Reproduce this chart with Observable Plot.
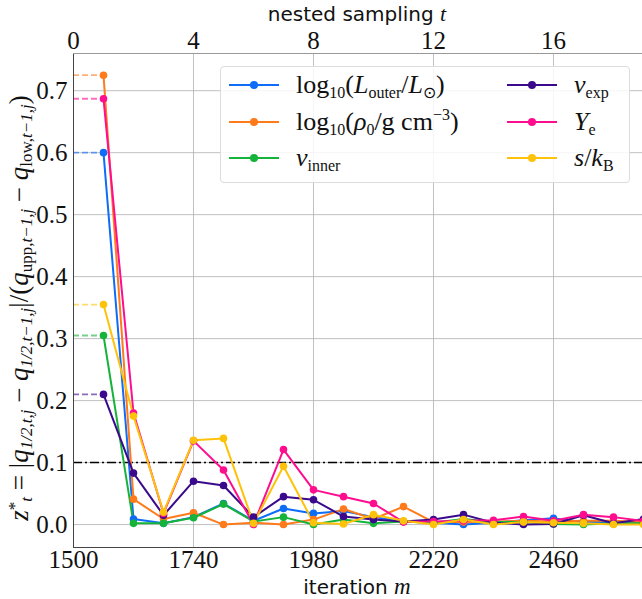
<!DOCTYPE html>
<html><head><meta charset="utf-8">
<script src="https://cdn.jsdelivr.net/npm/d3@7"></script>
<script src="https://cdn.jsdelivr.net/npm/@observablehq/plot@0.6"></script>
<style>
body{margin:0;background:#fff;}
#wrap{position:relative;width:642px;height:599px;}
#legend{position:absolute;left:220px;top:66px;width:410px;height:117px;background:rgba(255,255,255,0.85);border:1px solid #dcdcdc;border-radius:4px;box-sizing:border-box;font-family:"Liberation Serif",serif;font-size:26px;color:#111;}
.item{position:absolute;height:30px;display:flex;align-items:center;white-space:nowrap;}
.sw{position:relative;width:50px;height:2px;margin-right:17px;}
.sw i{position:absolute;left:21px;top:-3px;width:8px;height:8px;border-radius:50%;}
sub{font-size:16px;vertical-align:-5px;line-height:0;font-style:normal;}
sup{font-size:16px;vertical-align:10px;line-height:0;}
</style></head>
<body><div id="wrap"></div>
<script>
const iteration = [1560,1620,1680,1740,1800,1860,1920,1980,2040,2100,2160,2220,2280,2340,2400,2460,2520,2580,2640];
const Louter = [0.600,0.009,0.002,0.012,0.034,0.006,0.026,0.018,0.022,0.012,0.005,0.003,0.000,0.003,0.007,0.010,0.004,0.004,0.003];
const rho0   = [0.725,0.041,0.009,0.019,0.000,0.003,0.000,0.008,0.025,0.009,0.029,0.004,0.004,0.005,0.006,0.005,0.006,0.006,0.004];
const vinner = [0.305,0.002,0.002,0.011,0.033,0.005,0.012,0.000,0.008,0.002,0.005,0.003,0.009,0.004,0.004,0.001,0.000,0.002,0.002];
const vexp   = [0.210,0.083,0.015,0.070,0.063,0.012,0.045,0.040,0.013,0.008,0.005,0.008,0.016,0.003,0.000,0.001,0.015,0.002,0.009];
const Ye     = [0.687,0.180,0.018,0.135,0.088,0.000,0.121,0.056,0.045,0.034,0.004,0.005,0.006,0.007,0.013,0.006,0.016,0.012,0.006];
const sKB    = [0.355,0.175,0.020,0.136,0.139,0.002,0.094,0.003,0.001,0.016,0.006,0.000,0.008,0.000,0.004,0.003,0.002,0.000,0.000];
const startIteration = 1500;
const xTicks = [1500,1740,1980,2220,2460];
const tTickLabels = [0,4,8,12,16];
const yTicks = [0.0,0.1,0.2,0.3,0.4,0.5,0.6,0.7];
const threshold = 0.1;

const seriesNames = ["Louter","rho0","vinner","vexp","Ye","sKB"];
const seriesValues = [Louter,rho0,vinner,vexp,Ye,sKB];
const colors = ["#0f6cf7","#ff7a1a","#16b33a","#3b0a8c","#ff0d8f","#ffc20a"];

const rows = [];
seriesNames.forEach((s,k)=>iteration.forEach((it,i)=>rows.push({series:s,iteration:it,value:seriesValues[k][i]})));
const firsts = seriesNames.map((s,k)=>({series:s,value:seriesValues[k][0],x1:startIteration,x2:iteration[0]}));
const colorScale = {domain:seriesNames,range:colors};

const serif = "Liberation Serif";
const plot = Plot.plot({
  width:642,height:599,
  marginLeft:73,marginRight:0,marginTop:53,marginBottom:52,
  style:{fontFamily:serif,fontSize:"25px",color:"#111",background:"#fff"},
  x:{domain:[1500,2638]},
  y:{domain:[-0.037,0.76]},
  color:colorScale,
  marks:[
    Plot.gridX(xTicks,{stroke:"#b0b0b0",strokeOpacity:0.8,strokeWidth:1}),
    Plot.gridY(yTicks,{stroke:"#b0b0b0",strokeOpacity:0.8,strokeWidth:1}),
    Plot.axisX(xTicks,{anchor:"bottom",tickSize:0,tickPadding:3,label:null,fontSize:25,fontFamily:serif,tickFormat:d=>String(d)}),
    Plot.axisX(xTicks,{anchor:"top",tickSize:0,tickPadding:5,label:null,fontSize:25,fontFamily:serif,tickFormat:(d)=>String(tTickLabels[xTicks.indexOf(d)])}),
    Plot.axisY(yTicks,{tickSize:0,tickPadding:6,label:null,fontSize:25,fontFamily:serif,tickFormat:d=>d.toFixed(1)}),
    Plot.ruleY([threshold],{stroke:"#000",strokeWidth:1.5,strokeDasharray:"9,3,2,3"}),
    Plot.ruleY(firsts,{y:"value",x1:"x1",x2:"x2",stroke:"series",strokeWidth:1.8,strokeDasharray:"6,3",strokeOpacity:0.6}),
    Plot.line(rows,{x:"iteration",y:"value",z:"series",stroke:"series",strokeWidth:2}),
    Plot.dot(rows,{x:"iteration",y:"value",fill:"series",r:3.8}),
    Plot.frame({anchor:"left",stroke:"#444"}),
    Plot.frame({anchor:"bottom",stroke:"#444"}),
    Plot.frame({anchor:"top",stroke:"#999"})
  ]
});
document.getElementById("wrap").appendChild(plot);

const svg = d3.select(plot);
function rich(g, parts){
  parts.forEach(([txt,st])=>{
    const t = g.append("tspan").text(txt);
    if(st.includes("i")) t.attr("font-style","italic");
    if(st.includes("b")) { t.attr("font-size","17px").attr("baseline-shift","-22%"); }
    if(st.includes("p")) { t.attr("font-size","17px").attr("baseline-shift","45%"); }
  });
}
const topLabel = svg.append("text").attr("x",357).attr("y",21).attr("text-anchor","middle").attr("font-family","DejaVu Sans").attr("font-size","20px").attr("fill","#111");
topLabel.append("tspan").text("nested sampling ");
topLabel.append("tspan").text("t").attr("font-family",serif).attr("font-style","italic").attr("font-size","22px");
const botLabel = svg.append("text").attr("x",357).attr("y",594).attr("text-anchor","middle").attr("font-family","DejaVu Sans").attr("font-size","20px").attr("fill","#111");
botLabel.append("tspan").text("iteration ");
botLabel.append("tspan").text("m").attr("font-family",serif).attr("font-style","italic").attr("font-size","23px");
const yLabel = svg.append("text").attr("transform","translate(28,308) rotate(-90)").attr("text-anchor","middle").attr("font-family",serif).attr("font-size","27px").attr("fill","#111");
rich(yLabel,[["z","i"],["*","p"],["t","ib"],[" = |",""],["q","i"],["1/2,t,j","ib"],[" − ",""],["q","i"],["1/2,t−1,j","ib"],["|/(",""],["q","i"],["upp,","b"],["t−1,j","ib"],[" − ",""],["q","i"],["low,","b"],["t−1,j","ib"],[")",""]]);

const legendItems = [
  {k:0,left:8,top:3,html:"log<sub>10</sub>(<i>L</i><sub>outer</sub>/<i>L</i><sub>⊙</sub>)"},
  {k:1,left:8,top:40,html:"log<sub>10</sub>(<i>ρ</i><sub>0</sub>/g cm<sup>−3</sup>)"},
  {k:2,left:8,top:76,html:"<i>v</i><sub>inner</sub>"},
  {k:3,left:286,top:3,html:"<i>v</i><sub>exp</sub>"},
  {k:4,left:286,top:40,html:"<i>Y</i><sub>e</sub>"},
  {k:5,left:286,top:76,html:"<i>s</i>/<i>k</i><sub>B</sub>"}
];
const lg = document.createElement("div"); lg.id="legend";
legendItems.forEach(it=>{
  const d = document.createElement("div"); d.className="item";
  d.style.left=it.left+"px"; d.style.top=it.top+"px";
  d.innerHTML = `<span class="sw" style="background:${colors[it.k]}"><i style="background:${colors[it.k]}"></i></span><span>${it.html}</span>`;
  lg.appendChild(d);
});
document.getElementById("wrap").appendChild(lg);
</script></body></html>
